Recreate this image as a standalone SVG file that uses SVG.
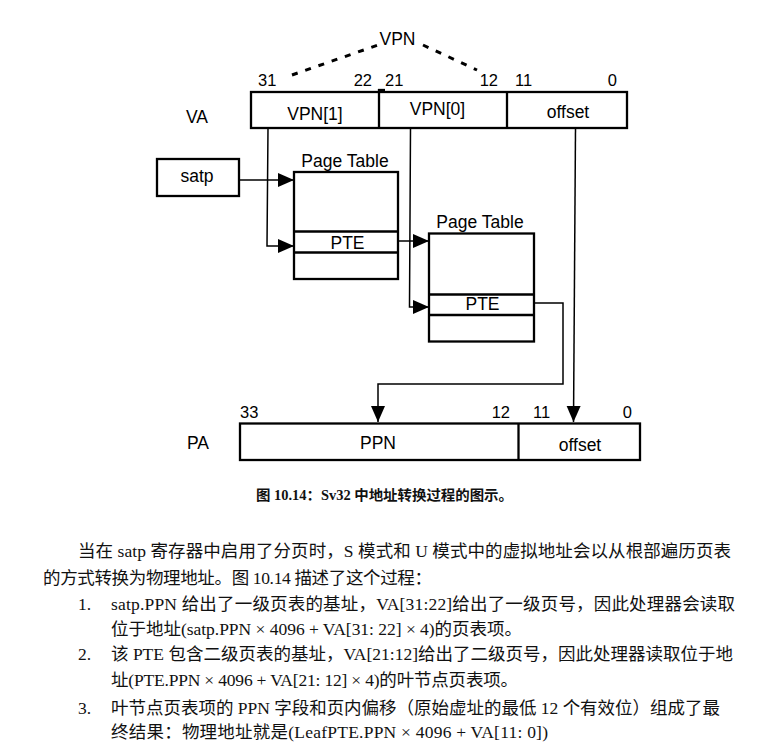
<svg xmlns="http://www.w3.org/2000/svg" width="768" height="753" viewBox="0 0 768 753">
<style>
.box{fill:#fff;stroke:#000;stroke-width:2.3}
.sep{stroke:#000;stroke-width:2.3}
.conn{fill:none;stroke:#000;stroke-width:1.5}
.dot{fill:none;stroke:#000;stroke-width:3;stroke-dasharray:6 8}
.lbl{font-family:"Liberation Sans",Arial,sans-serif;font-size:17.5px;fill:#000}
.num{font-family:"Liberation Sans",Arial,sans-serif;font-size:16.5px;fill:#000}
.mid{text-anchor:middle}
.end{text-anchor:end}
.cap{font-family:"Liberation Serif","Noto Sans CJK SC",serif;font-size:14px;font-weight:bold;fill:#111}
.body{font-family:"Liberation Serif","Noto Sans CJK SC",serif;font-size:17.5px;fill:#111}
</style>
<defs>
<marker id="arr" markerUnits="userSpaceOnUse" markerWidth="17" markerHeight="15" refX="16" refY="7" orient="auto">
<path d="M0,0 L16,7 L0,14 z" fill="#000"/>
</marker>
</defs>
<rect width="768" height="753" fill="#fff"/>

<g id="vpn-brace">
<path class="dot" d="M292,75 L378,45"/>
<path class="dot" d="M423,45 L477,70"/>
<text class="lbl mid" x="397.5" y="45">VPN</text>
</g>

<g id="va">
<text class="lbl" x="186" y="123">VA</text>
<text class="num" x="258" y="86">31</text>
<text class="num end" x="372" y="86">22</text>
<text class="num" x="385" y="86">21</text>
<text class="num end" x="498" y="86">12</text>
<text class="num" x="515" y="86">11</text>
<text class="num end" x="617" y="86">0</text>
<rect class="box" x="251" y="92" width="376" height="36"/>
<line class="sep" x1="379" y1="89" x2="379" y2="128"/>
<line class="sep" x1="378" y1="90" x2="385" y2="90"/>
<line class="sep" x1="507" y1="92" x2="507" y2="128"/>
<text class="lbl mid" x="315" y="120">VPN[1]</text>
<text class="lbl mid" x="437.5" y="115">VPN[0]</text>
<text class="lbl mid" x="568" y="118">offset</text>
</g>

<g id="satp">
<rect class="box" x="157" y="159" width="82" height="37"/>
<text class="lbl mid" x="197" y="182">satp</text>
</g>

<g id="pt1">
<text class="lbl mid" x="345" y="167">Page Table</text>
<rect class="box" x="294" y="172" width="104" height="107"/>
<line class="sep" x1="294" y1="231.5" x2="398" y2="231.5"/>
<line class="sep" x1="294" y1="252.5" x2="398" y2="252.5"/>
<text class="lbl mid" x="347.5" y="249">PTE</text>
</g>

<g id="pt2">
<text class="lbl mid" x="480" y="228">Page Table</text>
<rect class="box" x="429" y="233.5" width="105" height="108"/>
<line class="sep" x1="429" y1="294.5" x2="534" y2="294.5"/>
<line class="sep" x1="429" y1="315" x2="534" y2="315"/>
<text class="lbl mid" x="482.5" y="310">PTE</text>
</g>

<g id="pa">
<text class="lbl" x="187" y="449">PA</text>
<text class="num" x="240" y="418">33</text>
<text class="num end" x="510" y="418">12</text>
<text class="num" x="533" y="418">11</text>
<text class="num end" x="632" y="418">0</text>
<rect class="box" x="240" y="423.5" width="400" height="36.5"/>
<line class="sep" x1="518.5" y1="423.5" x2="518.5" y2="460"/>
<text class="lbl mid" x="378" y="449">PPN</text>
<text class="lbl mid" x="580" y="451">offset</text>
</g>

<g id="connectors">
<path class="conn" d="M268,128 L267,246 L294,246" marker-end="url(#arr)"/>
<path class="conn" d="M410.5,128 L409.5,307 L429,307" marker-end="url(#arr)"/>
<path class="conn" d="M575.5,128 L573.5,422" marker-end="url(#arr)"/>
<path class="conn" d="M239,180 L294,180" marker-end="url(#arr)"/>
<path class="conn" d="M398,241 L429,241" marker-end="url(#arr)"/>
<path class="conn" d="M534,303 L563,303 L563,384 L378,384 L378,422" marker-end="url(#arr)"/>
</g>

<g id="caption">
<text class="cap" x="256" y="500" textLength="257" lengthAdjust="spacingAndGlyphs">图 10.14：Sv32 中地址转换过程的图示。</text>
</g>

<g id="body">
<text class="body" x="78" y="557" textLength="653" lengthAdjust="spacing">当在 satp 寄存器中启用了分页时，S 模式和 U 模式中的虚拟地址会以从根部遍历页表</text>
<text class="body" x="43" y="584" textLength="389" lengthAdjust="spacing">的方式转换为物理地址。图 10.14 描述了这个过程：</text>
<text class="body" x="78" y="610">1.</text>
<text class="body" x="111" y="610" textLength="624" lengthAdjust="spacing">satp.PPN 给出了一级页表的基址，VA[31:22]给出了一级页号，因此处理器会读取</text>
<text class="body" x="111" y="635" textLength="411" lengthAdjust="spacing">位于地址(satp.PPN × 4096 + VA[31: 22] × 4)的页表项。</text>
<text class="body" x="78" y="660">2.</text>
<text class="body" x="111" y="660" textLength="622" lengthAdjust="spacing">该 PTE 包含二级页表的基址，VA[21:12]给出了二级页号，因此处理器读取位于地</text>
<text class="body" x="111" y="686" textLength="407" lengthAdjust="spacing">址(PTE.PPN × 4096 + VA[21: 12] × 4)的叶节点页表项。</text>
<text class="body" x="78" y="714">3.</text>
<text class="body" x="111" y="714" textLength="609" lengthAdjust="spacing">叶节点页表项的 PPN 字段和页内偏移（原始虚址的最低 12 个有效位）组成了最</text>
<text class="body" x="111" y="738" textLength="437" lengthAdjust="spacing">终结果：物理地址就是(LeafPTE.PPN × 4096 + VA[11: 0])</text>
</g>
</svg>
